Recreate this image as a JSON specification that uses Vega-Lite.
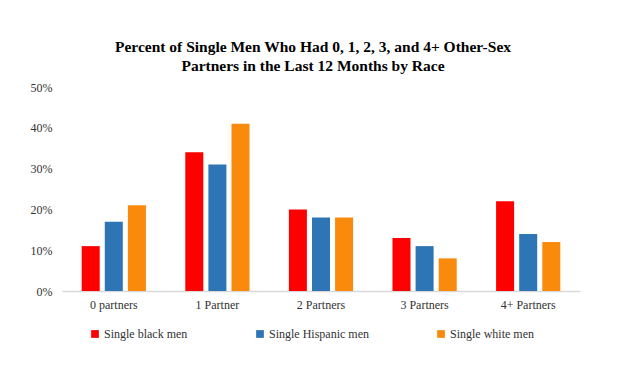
{
  "$schema": "https://vega.github.io/schema/vega-lite/v6.json",
  "width": 624,
  "height": 366,
  "autosize": {"type": "fit", "contains": "padding"},
  "padding": {"left": 30, "right": 44, "top": 39, "bottom": 56},
  "background": "white",
  "title": {
    "text": ["Percent of Single Men Who Had 0, 1, 2, 3, and 4+ Other-Sex", "Partners in the Last 12 Months by Race"],
    "font": "'Liberation Serif'",
    "fontSize": 15.5,
    "fontWeight": "bold",
    "color": "#000000",
    "anchor": "middle",
    "dx": -8,
    "offset": 7,
    "lineHeight": 19
  },
  "data": {
    "values": [
      {"cat": "0 partners", "race": "Single black men", "pct": 0.11},
      {"cat": "0 partners", "race": "Single Hispanic men", "pct": 0.17},
      {"cat": "0 partners", "race": "Single white men", "pct": 0.21},
      {"cat": "1 Partner", "race": "Single black men", "pct": 0.34},
      {"cat": "1 Partner", "race": "Single Hispanic men", "pct": 0.31},
      {"cat": "1 Partner", "race": "Single white men", "pct": 0.41},
      {"cat": "2 Partners", "race": "Single black men", "pct": 0.20},
      {"cat": "2 Partners", "race": "Single Hispanic men", "pct": 0.18},
      {"cat": "2 Partners", "race": "Single white men", "pct": 0.18},
      {"cat": "3 Partners", "race": "Single black men", "pct": 0.13},
      {"cat": "3 Partners", "race": "Single Hispanic men", "pct": 0.11},
      {"cat": "3 Partners", "race": "Single white men", "pct": 0.08},
      {"cat": "4+ Partners", "race": "Single black men", "pct": 0.22},
      {"cat": "4+ Partners", "race": "Single Hispanic men", "pct": 0.14},
      {"cat": "4+ Partners", "race": "Single white men", "pct": 0.12}
    ]
  },
  "mark": {"type": "bar"},
  "encoding": {
    "x": {
      "field": "cat", "type": "nominal", "sort": null, "title": null,
      "scale": {"paddingInner": 0.38, "paddingOuter": 0.19},
      "axis": {
        "labelAngle": 0, "labelFont": "'Liberation Serif'", "labelFontSize": 12,
        "labelColor": "#333333", "ticks": false, "domainColor": "#D9D9D9",
        "domainWidth": 1.5, "labelPadding": 8, "grid": false
      }
    },
    "xOffset": {"field": "race", "type": "nominal", "sort": null, "scale": {"paddingInner": 0.22}},
    "y": {
      "field": "pct", "type": "quantitative", "title": null,
      "scale": {"domain": [0, 0.5]},
      "axis": {
        "format": ".0%", "values": [0, 0.1, 0.2, 0.3, 0.4, 0.5], "labelOverlap": false,
        "labelFont": "'Liberation Serif'", "labelFontSize": 12, "labelColor": "#333333",
        "ticks": false, "domain": false, "grid": false, "labelPadding": 10
      }
    },
    "color": {
      "field": "race", "type": "nominal", "sort": null, "title": null,
      "scale": {
        "domain": ["Single black men", "Single Hispanic men", "Single white men"],
        "range": ["#FF0000", "#2E75B6", "#F98A0C"]
      },
      "legend": {
        "orient": "none", "legendX": 27, "legendY": 241, "direction": "horizontal", "symbolType": "square",
        "symbolSize": 60, "labelFont": "'Liberation Serif'", "labelFontSize": 12,
        "labelColor": "#333333", "columnPadding": 66, "labelOffset": 3,
        "symbolStrokeWidth": 0
      }
    }
  },
  "config": {"view": {"stroke": null}}
}
